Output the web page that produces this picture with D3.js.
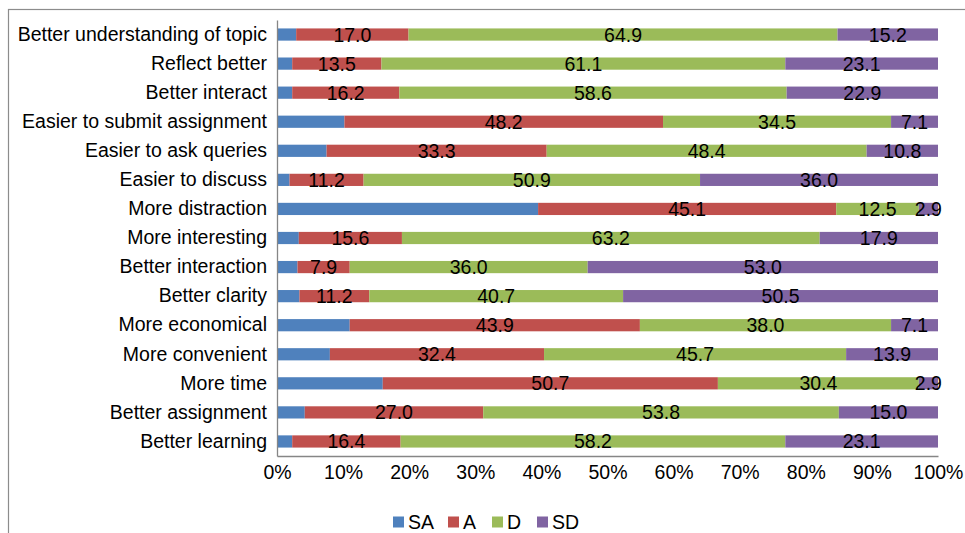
<!DOCTYPE html>
<html>
<head>
<meta charset="utf-8">
<script src="https://cdn.jsdelivr.net/npm/d3@7"></script>
<style>
  body { margin: 0; background: #fff; }
  svg { font-family: "Liberation Sans", Arial, sans-serif; }
</style>
</head>
<body>
<script>
// Categories, top to bottom
var categories = [
    "Better understanding of topic", "Reflect better", "Better interact",
    "Easier to submit assignment", "Easier to ask queries", "Easier to discuss",
    "More distraction", "More interesting", "Better interaction",
    "Better clarity", "More economical", "More convenient",
    "More time", "Better assignment", "Better learning"
];
var seriesNames = ["SA", "A", "D", "SD"];
var seriesColors = ["#4F81BD", "#C0504D", "#9BBB59", "#8064A2"];

// SA values are not labelled
var saValues = [2.9, 2.3, 2.3, 10.2, 7.5, 1.9, 39.5, 3.3, 3.1, 3.6, 11.0, 8.0, 16.0, 4.2, 2.3];
var aValues  = [17.0, 13.5, 16.2, 48.2, 33.3, 11.2, 45.1, 15.6, 7.9, 11.2, 43.9, 32.4, 50.7, 27.0, 16.4];
var dValues  = [64.9, 61.1, 58.6, 34.5, 48.4, 50.9, 12.5, 63.2, 36.0, 40.7, 38.0, 45.7, 30.4, 53.8, 58.2];
var sdValues = [15.2, 23.1, 22.9, 7.1, 10.8, 36.0, 2.9, 17.9, 53.0, 50.5, 7.1, 13.9, 2.9, 15.0, 23.1];
var tickLabels = ["0%", "10%", "20%", "30%", "40%", "50%", "60%", "70%", "80%", "90%", "100%"];

var W = 965, H = 533;
var plotLeft = 277, plotRight = 938, plotTop = 20, plotBottom = 456;
var fontSize = "19.5px";

var svg = d3.select("body").append("svg")
    .attr("width", W)
    .attr("height", H);

// Outer chart frame
svg.append("rect")
    .attr("x", 8.5).attr("y", 9.5)
    .attr("width", W).attr("height", H)
    .style("fill", "none")
    .style("stroke", "#8c8c8c")
    .style("stroke-width", 1.2);

var x = d3.scaleLinear().domain([0, 1]).range([plotLeft, plotRight]);
var y = d3.scaleBand().domain(categories).range([plotTop, plotBottom]).paddingInner(0.58).paddingOuter(0.29);

// Build rows and normalise to 100% (like the stacked chart does)
var rows = categories.map(function(c, i) {
    var vals = [saValues[i], aValues[i], dValues[i], sdValues[i]];
    var total = d3.sum(vals);
    var row = { cat: c };
    seriesNames.forEach(function(s, j) {
        row[s] = vals[j] / total;
        row[s + "_raw"] = vals[j];
    });
    return row;
});

var stacked = d3.stack().keys(seriesNames)(rows);

var groups = svg.selectAll("g.series")
    .data(stacked)
    .enter().append("g")
    .attr("class", "series")
    .style("fill", function(d, i) { return seriesColors[i]; });

groups.selectAll("rect")
    .data(function(d) { return d; })
    .enter().append("rect")
    .attr("x", function(d) { return x(d[0]); })
    .attr("y", function(d) { return y(d.data.cat); })
    .attr("width", function(d) { return x(d[1]) - x(d[0]); })
    .attr("height", y.bandwidth());

// Data labels (no labels on SA)
stacked.forEach(function(layer) {
    if (layer.key === "SA") return;
    svg.append("g").selectAll("text")
        .data(layer)
        .enter().append("text")
        .attr("x", function(d) { return (x(d[0]) + x(d[1])) / 2; })
        .attr("y", function(d) { return y(d.data.cat) + y.bandwidth() / 2; })
        .attr("dy", "0.36em")
        .attr("text-anchor", "middle")
        .style("font-size", fontSize)
        .style("fill", "#000")
        .text(function(d) { return d.data[layer.key + "_raw"].toFixed(1); });
});

// Axes
var xAxis = d3.axisBottom(x)
    .tickValues(d3.range(0, 11).map(function(i) { return i / 10; }))
    .tickFormat(function(d, i) { return tickLabels[i]; })
    .tickSize(0).tickPadding(9);

var gx = svg.append("g")
    .attr("transform", "translate(0," + plotBottom + ")")
    .call(xAxis);
gx.select(".domain").style("stroke", "#868686").style("stroke-width", 1.3);
gx.selectAll("text").style("font-size", fontSize).style("fill", "#000")
    .style("font-family", "Liberation Sans, Arial, sans-serif");

var yAxis = d3.axisLeft(y).tickSize(0).tickPadding(10);
var gy = svg.append("g")
    .attr("transform", "translate(" + plotLeft + ",0)")
    .call(yAxis);
gy.select(".domain").style("stroke", "#868686").style("stroke-width", 1.3);
gy.selectAll("text").style("font-size", fontSize).style("fill", "#000")
    .style("font-family", "Liberation Sans, Arial, sans-serif");

// Legend
var legendX = [393, 448, 492, 537];
var legend = svg.append("g");
seriesNames.forEach(function(s, i) {
    legend.append("rect")
        .attr("x", legendX[i]).attr("y", 516.5)
        .attr("width", 11).attr("height", 11)
        .style("fill", seriesColors[i]);
    legend.append("text")
        .attr("x", legendX[i] + 15).attr("y", 528.5)
        .style("font-size", fontSize)
        .style("fill", "#000")
        .text(s);
});
</script>
</body>
</html>
